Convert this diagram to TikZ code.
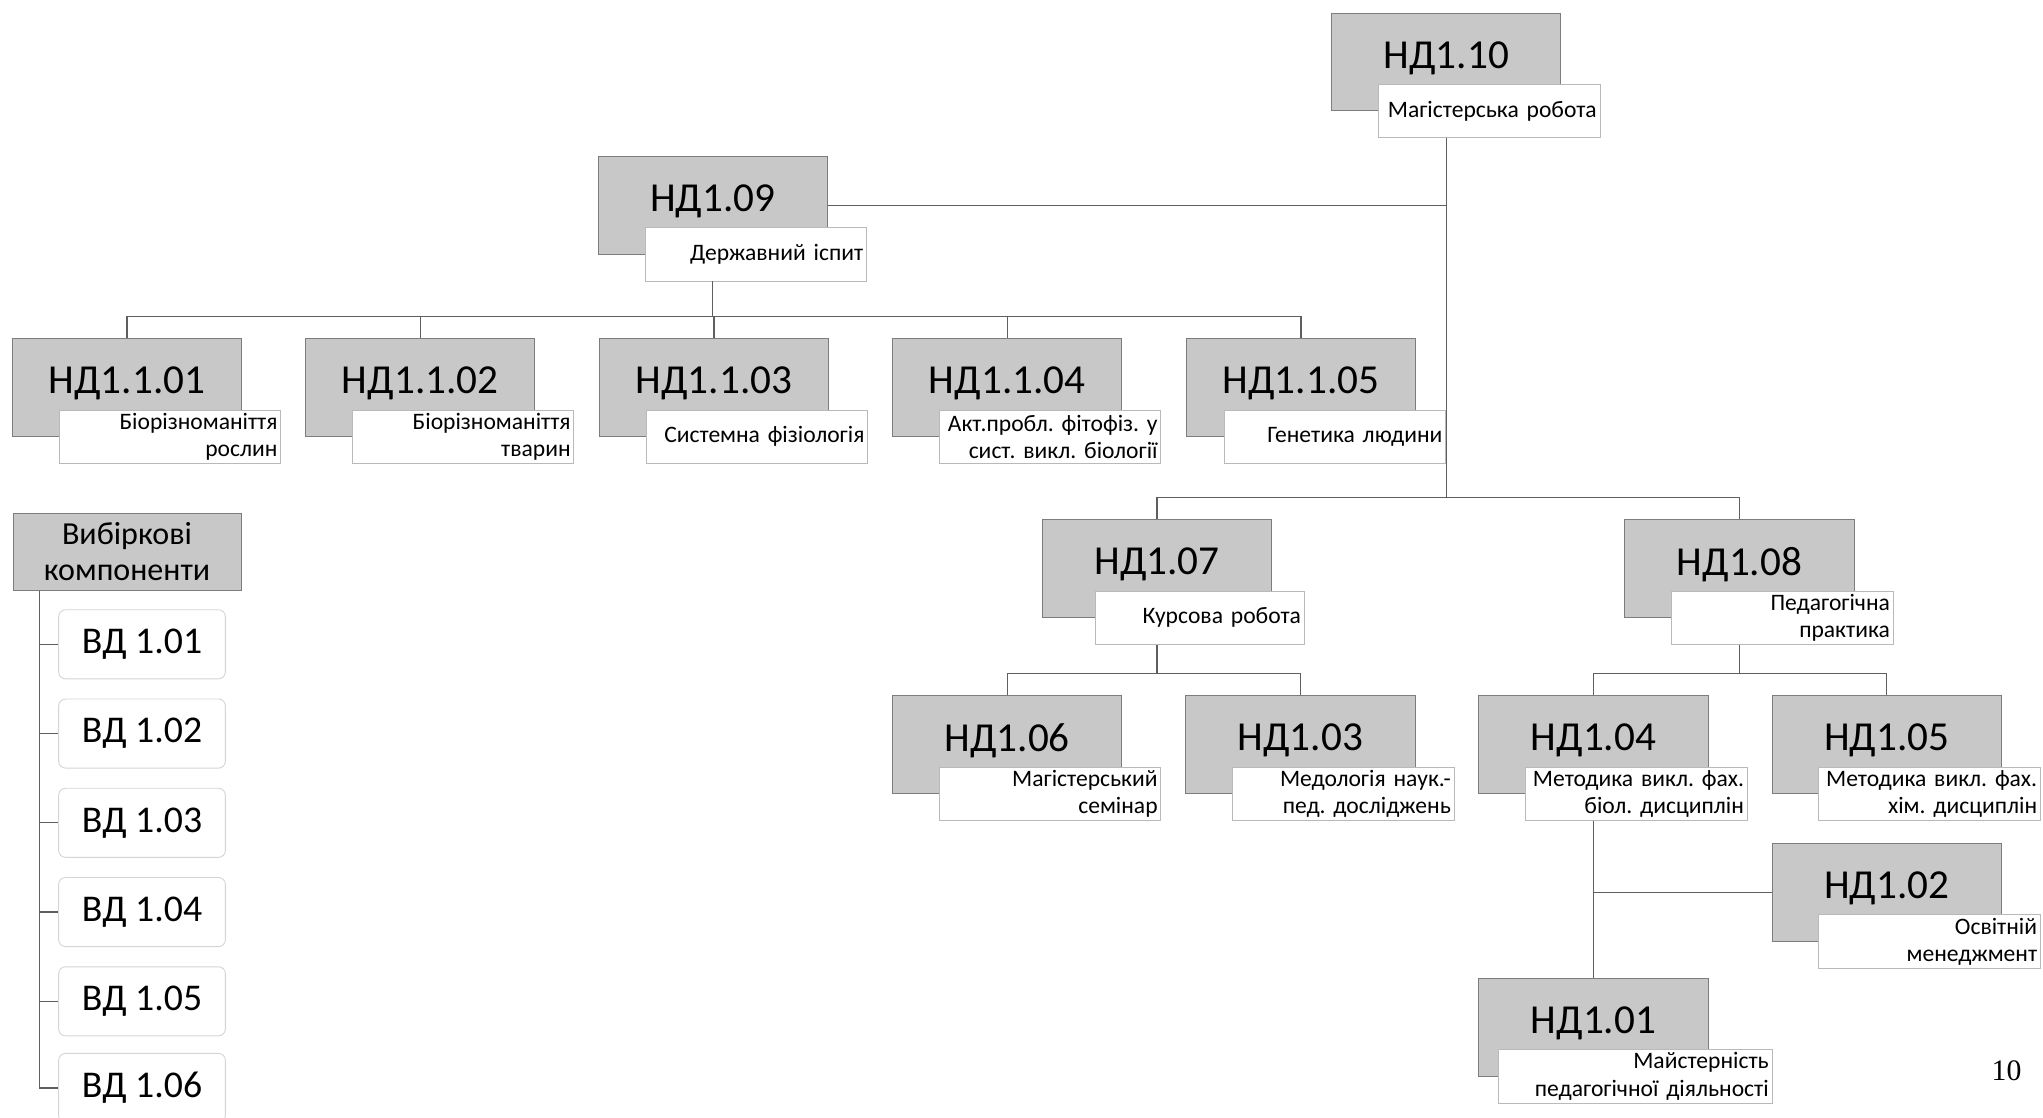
\documentclass[tikz,border=0pt]{standalone}
\usepackage{fontspec}
\setmainfont{Carlito}
\newfontfamily\tagfont{Carlito}[WordSpace=0.8]
\newfontfamily\pagefont{Liberation Serif}
\usepackage{xcolor}
\definecolor{boxgray}{RGB}{200,200,200}
\definecolor{edgegray}{RGB}{125,125,125}
\definecolor{taggray}{RGB}{185,185,185}
\definecolor{linegray}{RGB}{95,95,95}
\usepackage{tikz}
\usetikzlibrary{calc}
\newcommand{\ndsize}{\fontsize{18}{20}\selectfont}
\newcommand{\tagsize}{\tagfont\fontsize{10.3}{12}\selectfont\frenchspacing}
\newcommand{\vdsize}{\fontsize{16.5}{18}\selectfont}
\newcommand{\vibsize}{\fontsize{14}{15.5}\selectfont}
% grey code box with its white tag below right
\newcommand{\ndnode}[5][]{%
    \node[ndbox] (#2) at (#3) {#4};
    \node[ndtag, #1] (#2t) at ([shift={(30,-21)}]#2.south east) {#5};
}
\tikzset{
    ndbox/.style={draw=edgegray, fill=boxgray, rectangle, minimum width=3.52cm, minimum height=1.5cm, font=\ndsize, text depth=0.22cm},
    ndtag/.style={anchor=north east, draw=taggray, fill=white, rectangle, text width=3.3cm, inner xsep=0.05cm, inner ysep=1pt, minimum height=0.82cm, align=right, font=\tagsize},
    vibbox/.style={draw=edgegray, fill=boxgray, rectangle, minimum width=3.5cm, minimum height=1.18cm, align=center, font=\vibsize},
    vdbox/.style={draw=taggray!60, fill=white, rounded corners=3pt, minimum width=2.56cm, minimum height=1.06cm, font=\vdsize},
    link/.style={draw=linegray, line width=0.5pt},
}
\begin{document}
\begin{tikzpicture}[x=0.02cm, y=-0.02cm]
    \useasboundingbox (0,0) rectangle (1568,858);

    \ndnode{n110}{1110,47.5}{НД1.10}{Магістерська робота}
    \ndnode{n109}{547,157.5}{НД1.09}{Державний іспит}

    \ndnode{s101}{97.5,297.5}{НД1.1.01}{Біорізноманіття\\рослин}
    \ndnode{s102}{322.5,297.5}{НД1.1.02}{Біорізноманіття\\тварин}
    \ndnode{s103}{548,297.5}{НД1.1.03}{Системна фізіологія}
    \ndnode{s104}{773,297.5}{НД1.1.04}{Акт.пробл. фітофіз. у\\сист. викл. біології}
    \ndnode[xshift=-0.14cm]{s105}{998.5,297.5}{НД1.1.05}{Генетика людини}

    \ndnode[text width=3.1cm, xshift=-0.1cm]{n107}{888,436.5}{НД1.07}{Курсова робота}
    \ndnode{n108}{1335,436.5}{НД1.08}{Педагогічна\\практика}

    \ndnode{n106}{773,571.5}{НД1.06}{Магістерський\\семінар}
    \ndnode{n103}{998,571.5}{НД1.03}{Медологія наук.-\\пед. досліджень}
    \ndnode{n104}{1223,571.5}{НД1.04}{Методика викл. фах.\\біол. дисциплін}
    \ndnode{n105}{1448,571.5}{НД1.05}{Методика викл. фах.\\хім. дисциплін}
    \ndnode{n102}{1448,685}{НД1.02}{Освітній\\менеджмент}
    \ndnode[text width=4.1cm, xshift=0.38cm]{n101}{1223,788.5}{НД1.01}{Майстерність\\педагогічної діяльності}

    \node[vibbox] (vib) at (97.5,423.5) {Вибіркові\\компоненти};
    \node[vdbox] (vd1) at (109,494.5) {ВД 1.01};
    \node[vdbox] (vd2) at (109,563) {ВД 1.02};
    \node[vdbox] (vd3) at (109,631.5) {ВД 1.03};
    \node[vdbox] (vd4) at (109,700) {ВД 1.04};
    \node[vdbox] (vd5) at (109,768.5) {ВД 1.05};
    \node[vdbox] (vd6) at (109,835) {ВД 1.06};

    \node[font=\pagefont\fontsize{13}{15}\selectfont] (pg) at (1540,822) {10};

    \coordinate (busA) at (0,243);
    \coordinate (busB) at (0,382);
    \coordinate (busC) at (0,517);
    \coordinate (rail) at (30,0);

    % upper tree
    \draw[link] (n109.east) -- (n109.east -| n110);
    \draw[link] (n110 |- n110t.south) -- (n110 |- busB);
    \draw[link] (n109 |- n109t.south) -- (n109 |- busA);
    \draw[link] (s101.north) -- (s101 |- busA) -- (s105 |- busA) -- (s105.north);
    \draw[link] (s102.north) -- (s102 |- busA);
    \draw[link] (s103.north) -- (s103 |- busA);
    \draw[link] (s104.north) -- (s104 |- busA);

    % lower tree
    \draw[link] (n107.north) -- (n107 |- busB) -- (n108 |- busB) -- (n108.north);
    \draw[link] (n107 |- n107t.south) -- (n107 |- busC);
    \draw[link] (n106.north) -- (n106 |- busC) -- (n103 |- busC) -- (n103.north);
    \draw[link] (n108 |- n108t.south) -- (n108 |- busC);
    \draw[link] (n104.north) -- (n104 |- busC) -- (n105 |- busC) -- (n105.north);
    \draw[link] (n104 |- n104t.south) -- (n101.north);
    \draw[link] (n104 |- n102.west) -- (n102.west);

    % electives
    \draw[link] (rail |- vib.south) -- (rail |- vd6) -- (vd6.west);
    \draw[link] (rail |- vd1) -- (vd1.west);
    \draw[link] (rail |- vd2) -- (vd2.west);
    \draw[link] (rail |- vd3) -- (vd3.west);
    \draw[link] (rail |- vd4) -- (vd4.west);
    \draw[link] (rail |- vd5) -- (vd5.west);
\end{tikzpicture}
\end{document}
